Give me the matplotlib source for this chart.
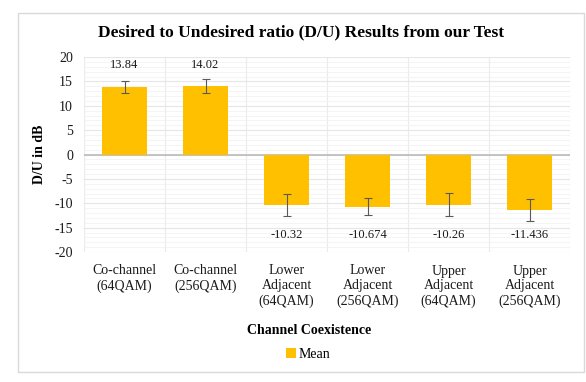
import matplotlib.pyplot as plt
from matplotlib.patches import Rectangle
from matplotlib.ticker import MultipleLocator

categories = ['Co-channel\n(64QAM)', 'Co-channel\n(256QAM)',
              'Lower\nAdjacent\n(64QAM)', 'Lower\nAdjacent\n(256QAM)',
              'Upper\nAdjacent\n(64QAM)', 'Upper\nAdjacent\n(256QAM)']
means = [13.84, 14.02, -10.32, -10.674, -10.26, -11.436]
errors = [1.2, 1.45, 2.2, 1.8, 2.45, 2.3]
labels = ['13.84', '14.02', '-10.32', '-10.674', '-10.26', '-11.436']

plt.rcParams['font.family'] = ['Liberation Serif', 'DejaVu Serif']
plt.rcParams['axes.unicode_minus'] = False

fig = plt.figure(figsize=(5.86, 3.82), dpi=100)
ax = fig.add_axes([84 / 586, 1 - 252 / 382, (570 - 84) / 586, (252 - 57) / 382])

# outer chart frame
fig.patches.append(Rectangle((18 / 586, 1 - 372 / 382), (584 - 18) / 586, (372 - 13) / 382,
                             transform=fig.transFigure, fill=False,
                             edgecolor='#d9d9d9', linewidth=1.0))

x = list(range(len(categories)))
ax.bar(x, means, width=0.55, color='#FFC000', zorder=3, label='Mean')
ax.errorbar(x, means, yerr=errors, fmt='none', ecolor='#595959',
            elinewidth=0.8, capsize=3, capthick=0.8, zorder=4)

for xi, m, lab in zip(x, means, labels):
    ypos = 18.4 if m > 0 else -16.5
    ax.text(xi, ypos, lab, ha='center', va='center', fontsize=9, color='#1a1a1a')

ax.set_xlim(-0.5, len(categories) - 0.5)
ax.set_ylim(-20, 20)
ax.yaxis.set_major_locator(MultipleLocator(5))
ax.yaxis.set_minor_locator(MultipleLocator(1))
ax.grid(which='major', axis='y', color='#e6e6e6', linewidth=0.8, zorder=0)
ax.grid(which='minor', axis='y', color='#f2f2f2', linewidth=0.6, zorder=0)
for b in range(len(categories) + 1):
    ax.axvline(b - 0.5, color='#ebebeb', linewidth=0.8, zorder=0)
ax.axhline(0, color='#bfbfbf', linewidth=1.3, zorder=2)

for s in ax.spines.values():
    s.set_visible(False)
ax.tick_params(which='both', length=0)
ax.set_xticks(x)
ax.set_xticklabels(categories, fontsize=10, color='#1a1a1a', linespacing=1.2)
ax.tick_params(axis='y', labelsize=10, labelcolor='#1a1a1a', pad=8)
ax.tick_params(axis='x', pad=9)

ax.set_ylabel('D/U in dB', fontsize=10, fontweight='bold', labelpad=6)
fig.text(301 / 586, 1 - 32 / 382, 'Desired to Undesired ratio (D/U) Results from our Test',
         ha='center', va='center', fontsize=12.5, fontweight='bold')
fig.text(309 / 586, 1 - 331 / 382, 'Channel Coexistence', ha='center', va='center',
         fontsize=10, fontweight='bold')

fig.legend(loc='center', bbox_to_anchor=(308 / 586, 1 - 354 / 382), frameon=False,
           fontsize=10, handlelength=0.7, handleheight=0.7, handletextpad=0.2)

fig.savefig('out.png', dpi=100)
